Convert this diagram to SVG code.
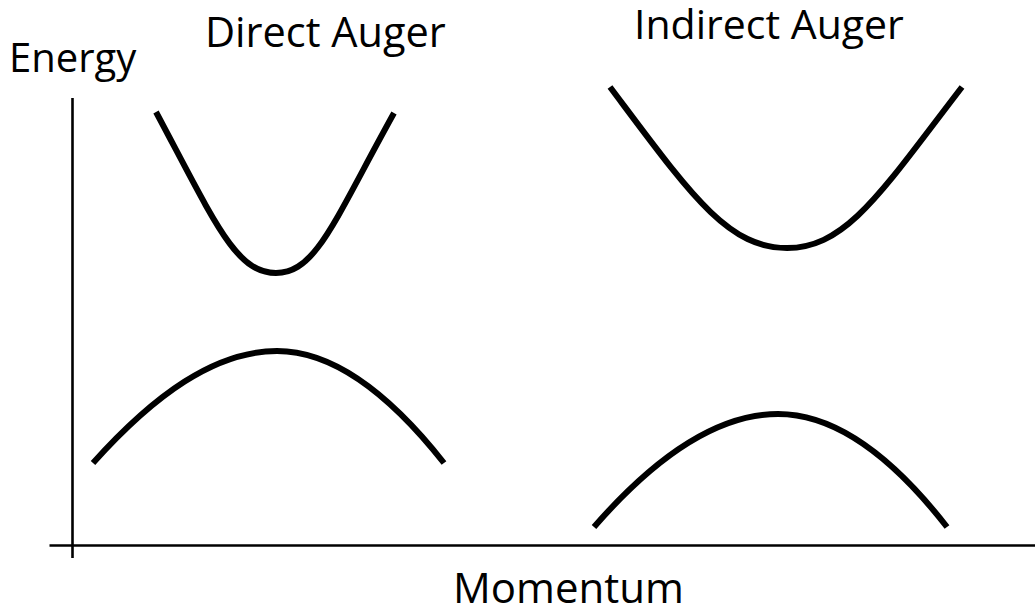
<svg xmlns="http://www.w3.org/2000/svg" width="1035" height="607" viewBox="0 0 1035 607">
  <style>
    .lbl { font-family: "Open Sans", "Liberation Sans", sans-serif; font-size: 41px; fill: #000; }
    .axis { stroke: #000; stroke-width: 2.6; fill: none; }
    .band { stroke: #000; stroke-width: 6; fill: none; stroke-linecap: butt; }
  </style>
  <rect width="1035" height="607" fill="#fff"/>
  <g id="axes">
    <line class="axis" x1="72.5" y1="98" x2="72.5" y2="558"/>
    <line class="axis" x1="49.5" y1="545.5" x2="1035" y2="545.5"/>
  </g>
  <g id="labels">
    <text id="energy-label" class="lbl" x="9" y="72" style="font-size:40px">Energy</text>
    <text id="direct-label" class="lbl" x="205" y="46.5" style="font-size:41.5px">Direct Auger</text>
    <text id="indirect-label" class="lbl" x="634" y="39">Indirect Auger</text>
    <text id="momentum-label" class="lbl" x="453" y="603" style="font-size:42px">Momentum</text>
  </g>
  <g id="bands">
    <path id="direct-conduction" class="band" d="M156,112 C216,224.5 236,273 276,273 C316,273 334,221 394,113"/>
    <path id="direct-valence" class="band" d="M93,463 C154,395 215,351 277,351 C333,351 388,392 444,463"/>
    <path id="indirect-conduction" class="band" d="M610,87 C690,193.6 727,248 787,248 C847,248 882,191 962,87"/>
    <path id="indirect-valence" class="band" d="M594,527 C655,457 716,414 778,414 C834,414 891,455 947,527"/>
  </g>
</svg>
